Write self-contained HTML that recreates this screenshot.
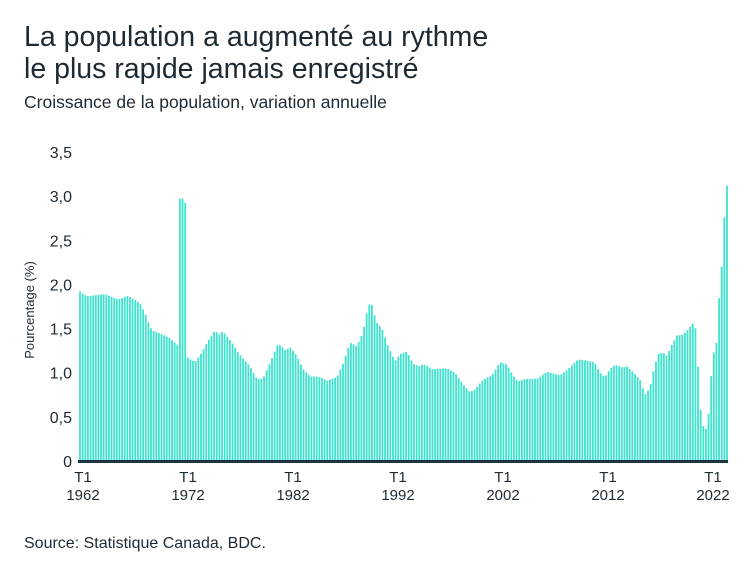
<!DOCTYPE html>
<html><head><meta charset="utf-8"><style>
body{margin:0;background:#fff;width:750px;height:576px;overflow:hidden;font-family:"Liberation Sans",sans-serif;color:#1e2a33}
.t{position:absolute;left:24px;font-size:28.5px;line-height:32px;top:21px;color:#1e2a33}
.s{position:absolute;left:24px;top:92px;font-size:17.5px;color:#1e2a33}
.src{position:absolute;left:24px;top:535px;font-size:16px;color:#1e2a33}
svg{position:absolute;left:0;top:0}
</style></head><body>
<div class="t">La population a augmenté au rythme<br>le plus rapide jamais enregistré</div>
<div class="s">Croissance de la population, variation annuelle</div>
<div class="src">Source: Statistique Canada, BDC.</div>
<svg id="c" width="750" height="576" font-family="Liberation Sans, sans-serif" font-size="15" fill="#1e2a33">
<text x="34" y="310" font-size="13" transform="rotate(-90 34 310)" text-anchor="middle">Pourcentage (%)</text>
<g id="y" text-anchor="end" font-size="16"></g>
<g id="b" fill="#3ee3cd"></g>
<rect x="78" y="460" width="650" height="3" fill="#1f3340"/>
<g text-anchor="middle" font-size="15">
<text x="83" y="482">T1</text><text x="83" y="500">1962</text>
<text x="188" y="482">T1</text><text x="188" y="500">1972</text>
<text x="293" y="482">T1</text><text x="293" y="500">1982</text>
<text x="398" y="482">T1</text><text x="398" y="500">1992</text>
<text x="503" y="482">T1</text><text x="503" y="500">2002</text>
<text x="608" y="482">T1</text><text x="608" y="500">2012</text>
<text x="713" y="482">T1</text><text x="713" y="500">2022</text>
</g>
</svg>
<script>
var g=document.getElementById('y');
var labs=["0","0,5","1,0","1,5","2,0","2,5","3,0","3,5"],t='';
for(var k=0;k<8;k++){var y=462-k*0.5*88.3+5;t+='<text x="72" y="'+y.toFixed(1)+'">'+labs[k]+'</text>';}
g.innerHTML=t;
var P=[[80,1.92],[86.7,1.865],[105,1.89],[118,1.83],[128,1.87],[140,1.79],[146,1.65],[149,1.55],[152,1.48],[163,1.43],[170,1.39],[178.5,1.3],[179.5,2.97],[183,2.97],[186.5,2.9],[187,1.18],[189,1.16],[195,1.12],[202,1.23],[207,1.34],[215,1.48],[219,1.43],[223,1.47],[232,1.34],[238,1.23],[250,1.07],[257,0.93],[263,0.93],[273,1.19],[278,1.33],[286,1.25],[290,1.29],[297,1.19],[303,1.04],[310,0.96],[320,0.95],[327,0.91],[337,0.95],[343,1.1],[350,1.34],[357,1.3],[363,1.46],[368,1.75],[371,1.8],[373,1.73],[376,1.58],[382,1.5],[388,1.3],[395,1.13],[400,1.21],[405,1.23],[407,1.24],[413,1.1],[420,1.07],[423,1.1],[433,1.04],[447,1.05],[455,1.0],[463,0.87],[470,0.78],[475,0.81],[483,0.92],[492,0.97],[500,1.12],[507,1.09],[513,0.97],[518,0.9],[525,0.93],[537,0.93],[547,1.01],[560,0.97],[568,1.04],[578,1.15],[590,1.13],[595,1.11],[600,1.0],[605,0.95],[610,1.04],[615,1.09],[622,1.06],[627,1.07],[633,1.01],[640,0.92],[645,0.75],[650,0.83],[653,1.0],[658,1.21],[663,1.23],[667,1.19],[672,1.32],[677,1.42],[683,1.43],[688,1.49],[693,1.56],[696,1.49],[698,1.08],[701,0.52],[704,0.36],[707,0.37],[709,0.58],[712,1.1],[714,1.24],[717,1.36],[719,1.83],[722,2.24],[724,2.71],[727,3.12]];
function v(x){if(x<=P[0][0])return P[0][1];for(var i=1;i<P.length;i++){if(x<=P[i][0]){var a=P[i-1],b=P[i];return a[1]+(b[1]-a[1])*(x-a[0])/(b[0]-a[0]);}}return P[P.length-1][1];}
var h='';for(var x=80;x<=727.5;x+=2.63){var val=v(x),hh=val*88.3;h+='<rect x="'+(x-0.9).toFixed(2)+'" y="'+(461-hh).toFixed(1)+'" width="1.8" height="'+hh.toFixed(1)+'"/>';}
document.getElementById('b').innerHTML=h;
</script>
</body></html>
